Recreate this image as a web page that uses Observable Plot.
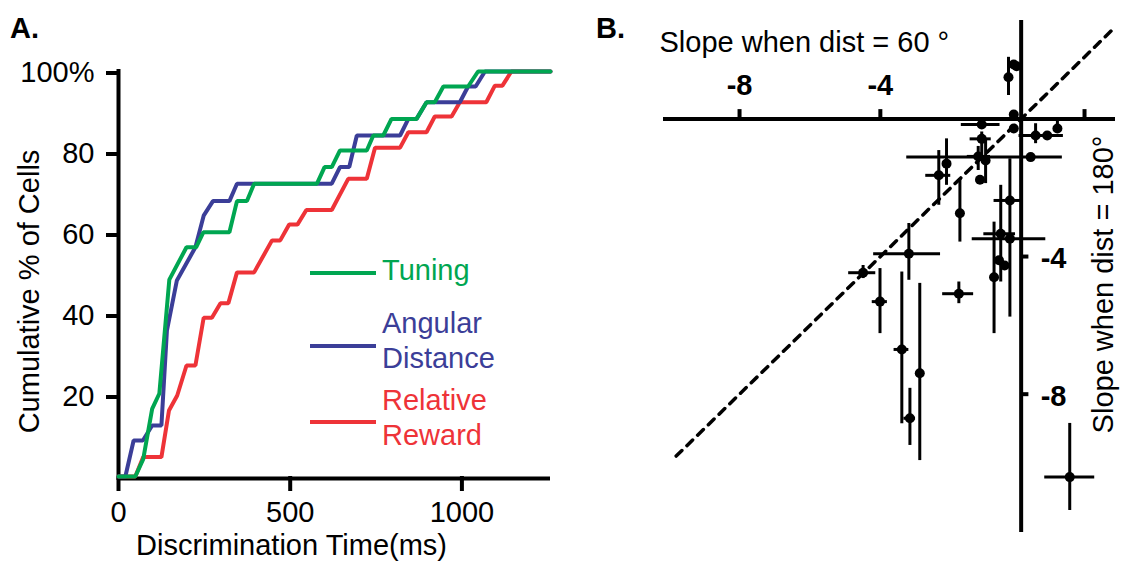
<!DOCTYPE html>
<html>
<head>
<meta charset="utf-8">
<script src="https://cdn.jsdelivr.net/npm/d3@7"></script>
<script src="https://cdn.jsdelivr.net/npm/@observablehq/plot@0.6"></script>
<style>
  html, body { margin: 0; padding: 0; background: #fff; }
  #root { position: relative; width: 1126px; height: 563px; overflow: hidden;
          font-family: "Liberation Sans", Arial, Helvetica, sans-serif; color: #000; }
  .panel { position: absolute; top: 0; }
  .tag { position: absolute; font-weight: bold; font-size: 29px; line-height: 29px; }
  .lg-line { position: absolute; left: 310px; width: 66px; height: 4px; }
  .lg-text { position: absolute; left: 382px; font-size: 29px; line-height: 35px; white-space: nowrap; }
</style>
</head>
<body>
<div id="root">
  <div class="tag" style="left:10px; top:14px;">A.</div>
  <div class="tag" style="left:596px; top:14px;">B.</div>
</div>
<script>
// ---------- Panel A data: cumulative % of cells vs discrimination time (ms) ----------
const seriesNames  = ["Relative Reward", "Angular Distance", "Tuning"];
const seriesColors = ["#ee3338", "#3b3e98", "#00a651"];

const tuningTime = [0, 49, 72, 98, 119, 148, 198, 226, 247, 323, 345, 374, 395, 578, 600, 621, 645, 723, 742, 771, 795, 868, 897, 921, 946, 1018, 1047, 1258];
const tuningPct  = [0, 0, 4.3, 16.7, 20.5, 48.6, 56.6, 56.6, 60.3, 60.3, 68, 68, 72.3, 72.3, 76.4, 76.4, 80.5, 80.5, 84.2, 84.2, 88.3, 88.3, 92.4, 92.4, 96.3, 96.3, 100, 100];

const angularTime = [0, 20, 44, 71, 98, 125, 141, 170, 224, 248, 275, 323, 345, 621, 645, 672, 694, 820, 844, 868, 897, 994, 1018, 1040, 1067, 1258];
const angularPct  = [0, 0, 8.9, 8.9, 12.6, 12.6, 36, 48.4, 56.6, 64.4, 68, 68, 72.3, 72.3, 76.4, 76.4, 84.2, 84.2, 88.3, 88.3, 92.4, 92.4, 96.3, 96.3, 100, 100];

const rewardTime = [0, 49, 72, 125, 147, 171, 198, 224, 248, 272, 297, 320, 345, 395, 447, 471, 497, 521, 547, 621, 669, 723, 747, 820, 844, 897, 921, 970, 994, 1071, 1096, 1118, 1144, 1258];
const rewardPct  = [0, 0, 4.8, 4.8, 16.3, 20, 27.4, 27.4, 39.2, 39.2, 42.8, 42.8, 50.4, 50.4, 58.3, 58.3, 62.2, 62.2, 65.8, 65.8, 73.5, 73.5, 81.2, 81.2, 85, 85, 88.9, 88.9, 92.4, 92.4, 96.5, 96.5, 100, 100];

const xTicksA = [0, 500, 1000];
const yTicksA = [20, 40, 60, 80, 100];
const xLabelA = "Discrimination Time(ms)";
const yLabelA = "Cumulative % of Cells";

// ---------- Panel B data: slope when dist = 60° vs slope when dist = 180° ----------
const slope60  = [-0.36, -0.21, -0.13, -0.21, -1.12, -0.21, 0.41, 0.74, 1.03, -1.12, 0.27, -1.22, -1.01, -2.12, -2.34, -1.17, -1.74, -0.32, -0.58, -0.32, -0.63, -0.47, -0.77, -3.19, -4.49, -4.01, -1.77, -3.39, -2.88, -3.16, 1.38];
const slope180 = [1.21, 1.58, 1.53, 0.13, -0.16, -0.28, -0.48, -0.48, -0.28, -0.58, -1.11, -1.09, -1.21, -1.30, -1.64, -1.77, -2.74, -2.37, -3.34, -3.48, -4.11, -4.26, -4.60, -3.92, -4.47, -5.31, -5.08, -6.70, -7.39, -8.70, -10.41];
const slope60Lo  = [null, null, null, null, -1.70, null, -0.06, null, null, -1.45, -3.25, -1.53, null, null, -2.71, null, null, -0.77, -1.06, -1.39, null, null, null, -4.19, -4.90, -4.23, -2.23, -3.61, null, -3.33, 0.67];
const slope60Hi  = [null, null, null, null, -0.60, null, 1.20, null, null, -0.85, 1.17, -0.87, null, null, -2.00, null, null, -0.01, -0.16, 0.70, null, null, null, -2.29, -4.13, -3.80, -1.35, -3.19, null, -3.00, 2.09];
const slope180Lo = [0.68, null, null, null, null, null, -0.72, null, -0.42, -1.21, null, -1.50, -1.88, -1.93, -2.51, null, -3.58, null, -4.74, -5.76, null, null, -6.24, -4.69, -4.64, -6.24, -5.37, -8.86, -9.93, -9.49, -11.38];
const slope180Hi = [1.79, null, null, null, null, null, -0.14, null, -0.04, -0.38, null, -0.80, -0.60, -0.58, -0.92, null, -1.74, null, -1.93, -1.16, null, null, -3.00, -3.04, -4.26, -4.35, -4.74, -4.45, -4.78, -7.83, -8.85];

const identitySpan = [-9.8, 2.6];
const xTicksB = [-8, -4, 1.8];
const xTickLabelsB = [-8, -4];
const yTicksB = [-4, -8];
const xLabelB = "Slope when dist = 60 °";
const yLabelB = "Slope when dist = 180°";

// ---------- build ----------
const FONT = '"Liberation Sans", Arial, Helvetica, sans-serif';
const FS = 29;

const rowsA = [
  ...rewardTime.map((t, i) => ({series: "Relative Reward", t, p: rewardPct[i]})),
  ...angularTime.map((t, i) => ({series: "Angular Distance", t, p: angularPct[i]})),
  ...tuningTime.map((t, i) => ({series: "Tuning", t, p: tuningPct[i]}))
];

const plotA = Plot.plot({
  width: 563, height: 563,
  marginLeft: 118, marginRight: 13, marginTop: 71, marginBottom: 87,
  x: {domain: [0, 1258]},
  y: {domain: [0, 100]},
  color: {domain: seriesNames, range: seriesColors},
  style: {fontFamily: FONT, fontSize: FS + "px", background: "transparent", overflow: "visible"},
  marks: [
    Plot.axisY({ticks: yTicksA, tickSize: 12, tickPadding: 12, strokeWidth: 4, fontSize: FS,
                tickFormat: d => d === 100 ? "100%" : String(d), label: null, dy: 1.5}),
    Plot.axisX({ticks: xTicksA, tickSize: 15, tickPadding: 10, strokeWidth: 4, fontSize: FS,
                tickFormat: d => String(d), label: null}),
    Plot.ruleX([0], {y1: -1, y2: 100.5, strokeWidth: 4}),
    Plot.ruleY([-0.5], {strokeWidth: 4}),
    Plot.line(rowsA, {x: "t", y: "p", z: "series", stroke: "series", strokeWidth: 4, strokeLinejoin: "miter"}),
    Plot.text([yLabelA], {text: d => d, frameAnchor: "left", textAnchor: "middle", lineAnchor: "middle",
                          rotate: -90, dx: -89, dy: 17.5, fontSize: FS}),
    Plot.text([xLabelA], {text: d => d, frameAnchor: "bottom", textAnchor: "middle", lineAnchor: "middle",
                          dx: -43, dy: 69.5, fontSize: FS})
  ]
});
plotA.classList.add("panel");
plotA.style.left = "0px";

const ptsB = slope60.map((x, i) => ({
  x, y: slope180[i],
  xlo: slope60Lo[i], xhi: slope60Hi[i],
  ylo: slope180Lo[i], yhi: slope180Hi[i]
}));

const plotB = Plot.plot({
  width: 563, height: 563,
  marginLeft: 100, marginRight: 11, marginTop: 20, marginBottom: 31,
  x: {domain: [-10.16, 2.68], axis: null},
  y: {domain: [-12.02, 2.86], axis: null},
  style: {fontFamily: FONT, fontSize: FS + "px", background: "transparent", overflow: "visible"},
  marks: [
    Plot.line(identitySpan, {x: d => d, y: d => d, stroke: "#000", strokeWidth: 3.5, strokeDasharray: "8,7"}),
    Plot.ruleX(ptsB.filter(d => d.ylo != null), {x: "x", y1: "ylo", y2: "yhi", strokeWidth: 3}),
    Plot.ruleY(ptsB.filter(d => d.xlo != null), {y: "y", x1: "xlo", x2: "xhi", strokeWidth: 3}),
    Plot.dot(ptsB, {x: "x", y: "y", r: 5, fill: "#000", stroke: null}),
    Plot.ruleY([0], {strokeWidth: 4}),
    Plot.ruleX([0], {strokeWidth: 4}),
    Plot.ruleX(xTicksB, {x: d => d, y1: 0, y2: 0.27, strokeWidth: 4}),
    Plot.ruleY(yTicksB, {y: d => d, x1: 0, x2: 0.22, strokeWidth: 4}),
    Plot.text(xTickLabelsB, {x: d => d, y: 0, text: d => String(d), dy: -32.8, lineAnchor: "middle",
                             fontSize: FS, fontWeight: "bold"}),
    Plot.text(yTicksB, {x: 0, y: d => d, text: d => String(d), dx: 19.5, dy: 2.5, textAnchor: "start",
                        lineAnchor: "middle", fontSize: FS, fontWeight: "bold"}),
    Plot.text([xLabelB], {text: d => d, frameAnchor: "top-left", textAnchor: "start", lineAnchor: "middle",
                          dx: -4, dy: 22.4, fontSize: FS}),
    Plot.text([yLabelB], {text: d => d, frameAnchor: "right", textAnchor: "middle", lineAnchor: "middle",
                          rotate: -90, dx: -11.3, dy: 8, fontSize: FS})
  ]
});
plotB.classList.add("panel");
plotB.style.left = "563px";

const root = document.getElementById("root");
root.appendChild(plotA);
root.appendChild(plotB);

// legend (HTML, placed over panel A)
const legendLineTop = [270.7, 344, 419.7];
const legendTextTop = [253.2, 305.8, 382.5];
const legendLabels = ["Tuning", "Angular\nDistance", "Relative\nReward"];
const legendColors = [seriesColors[2], seriesColors[1], seriesColors[0]];
legendLabels.forEach((lab, i) => {
  const ln = document.createElement("div");
  ln.className = "lg-line";
  ln.style.top = legendLineTop[i] + "px";
  ln.style.background = legendColors[i];
  root.appendChild(ln);
  const tx = document.createElement("div");
  tx.className = "lg-text";
  tx.style.top = legendTextTop[i] + "px";
  tx.style.color = legendColors[i];
  tx.innerHTML = lab.split("\n").join("<br>");
  root.appendChild(tx);
});
</script>
</body>
</html>
